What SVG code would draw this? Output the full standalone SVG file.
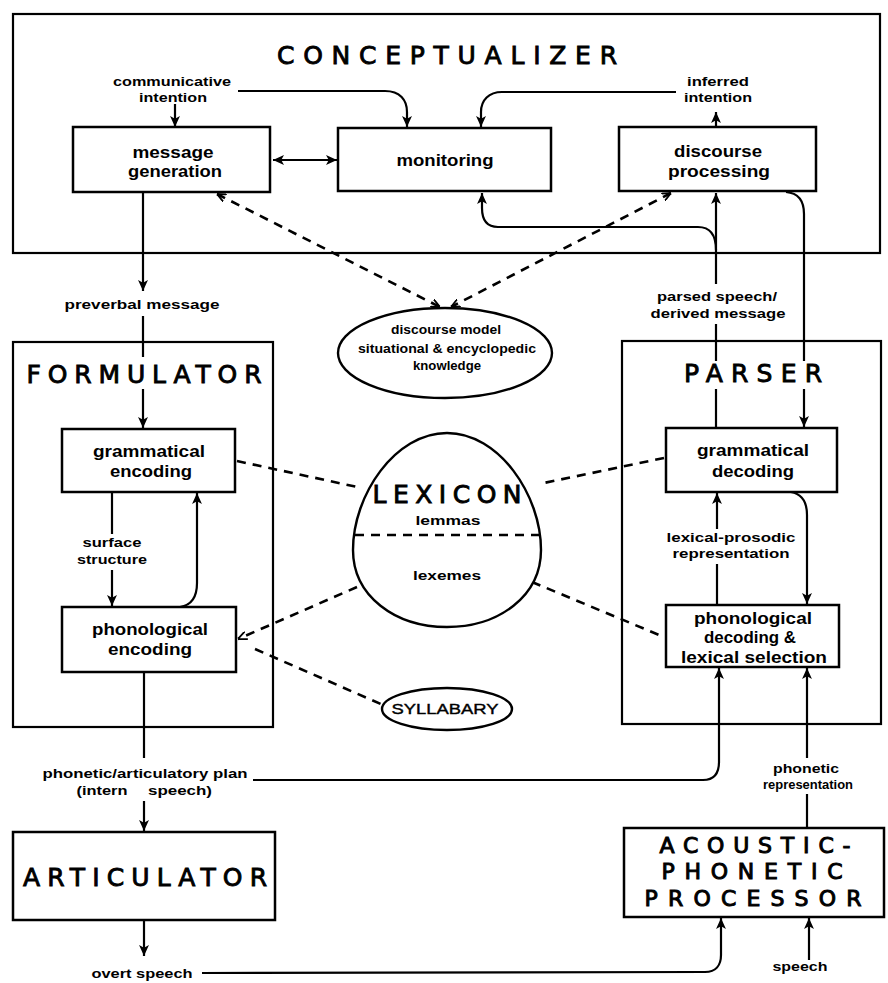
<svg xmlns="http://www.w3.org/2000/svg" width="888" height="983" viewBox="0 0 888 983">
<style>
.frame{fill:none;stroke:#000;stroke-width:2.2}
.box{fill:#fff;stroke:#000;stroke-width:2.5}
.ell{fill:#fff;stroke:#000;stroke-width:2.4}
.ln{fill:none;stroke:#000;stroke-width:2.2}
.dash{fill:none;stroke:#000;stroke-width:2.6;stroke-dasharray:9 7}
text{font-family:"Liberation Sans",Arial,Helvetica,sans-serif;font-weight:bold;font-size:13px;text-anchor:middle;fill:#000}
.bx{font-size:17px}
.tt{font-family:"DejaVu Sans","Liberation Sans",sans-serif;font-weight:normal;font-size:25px;stroke:#000;stroke-width:0.9}
.ap{font-size:22px;stroke-width:1}
.sy{font-weight:normal;font-size:15px;stroke:#000;stroke-width:0.4}
</style>
<defs>
<marker id="ah" viewBox="0 0 10 10" refX="10" refY="5" markerWidth="11" markerHeight="11" markerUnits="userSpaceOnUse" orient="auto-start-reverse"><path d="M0,0.5 L10,5 L0,9.5 L2.5,5 Z" fill="#000"/></marker>
<marker id="as" viewBox="0 0 10 10" refX="10" refY="5" markerWidth="9" markerHeight="9" markerUnits="userSpaceOnUse" orient="auto-start-reverse"><path d="M0,0.5 L10,5 L0,9.5" fill="none" stroke="#000" stroke-width="2"/></marker>
</defs>
<rect width="888" height="983" fill="#fff"/>

<g id="conceptualizer">
<rect class="frame" x="13" y="14" width="867" height="239"/>
<text class="tt" x="447" y="64" font-size="27" textLength="340" lengthAdjust="spacing">CONCEPTUALIZER</text>
</g>
<g id="formulator">
<rect class="frame" x="13" y="342" width="260" height="385"/>
<text class="tt" x="144" y="383" textLength="235" lengthAdjust="spacing">FORMULATOR</text>
</g>
<g id="parser">
<rect class="frame" x="622" y="341" width="259" height="383"/>
<text class="tt" x="753" y="382" textLength="138" lengthAdjust="spacing">PARSER</text>
</g>

<g id="labels">
<text x="172" y="86" textLength="118" lengthAdjust="spacingAndGlyphs">communicative</text>
<text x="173" y="102" textLength="68" lengthAdjust="spacingAndGlyphs">intention</text>
<text x="718" y="86" textLength="62" lengthAdjust="spacingAndGlyphs">inferred</text>
<text x="718" y="102" textLength="68" lengthAdjust="spacingAndGlyphs">intention</text>
<text x="142" y="309" textLength="155" lengthAdjust="spacingAndGlyphs">preverbal message</text>
<text x="717" y="301" textLength="120" lengthAdjust="spacingAndGlyphs">parsed speech/</text>
<text x="718" y="318" textLength="135" lengthAdjust="spacingAndGlyphs">derived message</text>
<text x="112" y="547" textLength="59" lengthAdjust="spacingAndGlyphs">surface</text>
<text x="112" y="564" textLength="70" lengthAdjust="spacingAndGlyphs">structure</text>
<text x="731" y="542" textLength="129" lengthAdjust="spacingAndGlyphs">lexical-prosodic</text>
<text x="731" y="558" textLength="117" lengthAdjust="spacingAndGlyphs">representation</text>
<text x="145" y="778" textLength="205" lengthAdjust="spacingAndGlyphs">phonetic/articulatory plan</text>
<text x="102" y="795" textLength="51" lengthAdjust="spacingAndGlyphs">(intern</text>
<text x="180" y="795" textLength="64" lengthAdjust="spacingAndGlyphs">speech)</text>
<text x="806" y="773" textLength="66" lengthAdjust="spacingAndGlyphs">phonetic</text>
<text x="808" y="789" textLength="90" lengthAdjust="spacingAndGlyphs">representation</text>
<text x="142" y="978" textLength="101" lengthAdjust="spacingAndGlyphs">overt speech</text>
<text x="800" y="971" textLength="55" lengthAdjust="spacingAndGlyphs">speech</text>
</g>

<g id="connectors">
<path class="ln" d="M175 104 L175 127" marker-end="url(#ah)"/>
<path class="ln" d="M238 91 L385 91 C400 91 407 100 407 112 L407 127" marker-end="url(#ah)"/>
<path class="ln" d="M676 92 L502 92 C489 92 481 100 481 112 L481 127" marker-end="url(#ah)"/>
<path class="ln" d="M716 127 L716 112" marker-end="url(#ah)"/>
<path class="ln" d="M273 160 L337 160" marker-start="url(#ah)" marker-end="url(#ah)"/>
<path class="ln" d="M143 192 L143 291" marker-end="url(#ah)"/>
<path class="ln" d="M143 316 L143 357"/>
<path class="ln" d="M143 389 L143 428" marker-end="url(#ah)"/>
<path class="ln" d="M112 492 L112 534"/>
<path class="ln" d="M112 570 L112 606" marker-end="url(#ah)"/>
<path class="ln" d="M180 607 C193 605 197 596 197 583 L197 493" marker-end="url(#ah)"/>
<path class="ln" d="M144 672 L144 758"/>
<path class="ln" d="M144 801 L144 831" marker-end="url(#ah)"/>
<path class="ln" d="M144 920 L144 956" marker-end="url(#ah)"/>
<path class="ln" d="M202 973 L705 972 C716 972 721 965 721 955 L721 918" marker-end="url(#ah)"/>
<path class="ln" d="M809 960 L809 918" marker-end="url(#ah)"/>
<path class="ln" d="M807 828 L807 794"/>
<path class="ln" d="M807 758 L807 668" marker-end="url(#ah)"/>
<path class="ln" d="M253 780 L703 780 C714 780 719 773 719 762 L719 668" marker-end="url(#ah)"/>
<path class="ln" d="M717 605 L717 564"/>
<path class="ln" d="M717 529 L717 493" marker-end="url(#ah)"/>
<path class="ln" d="M791 492 C802 494 807 502 807 515 L807 604" marker-end="url(#ah)"/>
<path class="ln" d="M716 428 L716 389"/>
<path class="ln" d="M716 361 L716 324"/>
<path class="ln" d="M716 284 L716 193" marker-end="url(#ah)"/>
<path class="ln" d="M716 250 C716 235 710 227 698 227 L498 227 C487 227 482 220 482 208 L482 193" marker-end="url(#ah)"/>
<path class="ln" d="M786 192 C798 193 804 200 804 214 L804 361"/>
<path class="ln" d="M804 389 L804 427" marker-end="url(#ah)"/>
<path class="dash" d="M217 194 L440 307" marker-start="url(#as)" marker-end="url(#as)"/>
<path class="dash" d="M671 193 L451 307" marker-start="url(#as)" marker-end="url(#as)"/>
<path class="dash" d="M237 461 L362 488"/>
<path class="dash" d="M664 458 L539 484"/>
<path class="dash" d="M357 587 L238 639" marker-end="url(#as)"/>
<path class="dash" d="M532 582 L664 637"/>
<path class="dash" d="M255 649 L383 705"/>
</g>

<g id="message-generation">
<rect class="box" x="73" y="127" width="197" height="65"/>
<text class="bx" x="173" y="158" textLength="81" lengthAdjust="spacingAndGlyphs">message</text>
<text class="bx" x="175" y="177" textLength="94" lengthAdjust="spacingAndGlyphs">generation</text>
</g>
<g id="monitoring">
<rect class="box" x="338" y="128" width="213" height="63"/>
<text class="bx" x="445" y="166" textLength="97" lengthAdjust="spacingAndGlyphs">monitoring</text>
</g>
<g id="discourse-processing">
<rect class="box" x="619" y="127" width="197" height="64"/>
<text class="bx" x="718" y="157" textLength="88" lengthAdjust="spacingAndGlyphs">discourse</text>
<text class="bx" x="719" y="177" textLength="102" lengthAdjust="spacingAndGlyphs">processing</text>
</g>
<g id="discourse-model">
<ellipse class="ell" cx="445" cy="353" rx="107" ry="45"/>
<text x="446" y="334" textLength="110" lengthAdjust="spacingAndGlyphs">discourse model</text>
<text x="447" y="353" textLength="178" lengthAdjust="spacingAndGlyphs">situational &amp; encyclopedic</text>
<text x="447" y="370" textLength="68" lengthAdjust="spacingAndGlyphs">knowledge</text>
</g>
<g id="grammatical-encoding">
<rect class="box" x="62" y="429" width="173" height="63"/>
<text class="bx" x="149" y="457" textLength="112" lengthAdjust="spacingAndGlyphs">grammatical</text>
<text class="bx" x="151" y="477" textLength="82" lengthAdjust="spacingAndGlyphs">encoding</text>
</g>
<g id="grammatical-decoding">
<rect class="box" x="666" y="428" width="171" height="64"/>
<text class="bx" x="753" y="456" textLength="112" lengthAdjust="spacingAndGlyphs">grammatical</text>
<text class="bx" x="753" y="477" textLength="82" lengthAdjust="spacingAndGlyphs">decoding</text>
</g>
<g id="lexicon">
<path class="ell" d="M447 433 C395 433 353 495 353 550 C353 596 395 627 447 627 C499 627 541 596 541 550 C541 495 499 433 447 433 Z"/>
<path class="dash" d="M355 535 L539 535"/>
<text class="tt" x="447" y="503" textLength="149" lengthAdjust="spacing">LEXICON</text>
<text x="448" y="525" textLength="65" lengthAdjust="spacingAndGlyphs">lemmas</text>
<text x="447" y="580" textLength="68" lengthAdjust="spacingAndGlyphs">lexemes</text>
</g>
<g id="phonological-encoding">
<rect class="box" x="62" y="607" width="174" height="65"/>
<text class="bx" x="150" y="635" textLength="116" lengthAdjust="spacingAndGlyphs">phonological</text>
<text class="bx" x="150" y="655" textLength="84" lengthAdjust="spacingAndGlyphs">encoding</text>
</g>
<g id="phonological-decoding">
<rect class="box" x="666" y="605" width="173" height="62"/>
<text class="bx" x="753" y="624" textLength="118" lengthAdjust="spacingAndGlyphs">phonological</text>
<text class="bx" x="750" y="643" textLength="92" lengthAdjust="spacingAndGlyphs">decoding &amp;</text>
<text class="bx" x="754" y="663" textLength="146" lengthAdjust="spacingAndGlyphs">lexical selection</text>
</g>
<g id="syllabary">
<ellipse class="ell" cx="447" cy="709" rx="65" ry="21"/>
<text class="sy" x="445" y="714" textLength="107" lengthAdjust="spacingAndGlyphs">SYLLABARY</text>
</g>
<g id="articulator">
<rect class="box" x="13" y="832" width="262" height="88"/>
<text class="tt" x="145" y="886" textLength="244" lengthAdjust="spacing">ARTICULATOR</text>
</g>
<g id="acoustic-phonetic-processor">
<rect class="box" x="624" y="828" width="260" height="89"/>
<text class="tt ap" x="755" y="853" textLength="191" lengthAdjust="spacing">ACOUSTIC-</text>
<text class="tt ap" x="752" y="879" textLength="181" lengthAdjust="spacing">PHONETIC</text>
<text class="tt ap" x="753" y="906" textLength="217" lengthAdjust="spacing">PROCESSOR</text>
</g>
</svg>
